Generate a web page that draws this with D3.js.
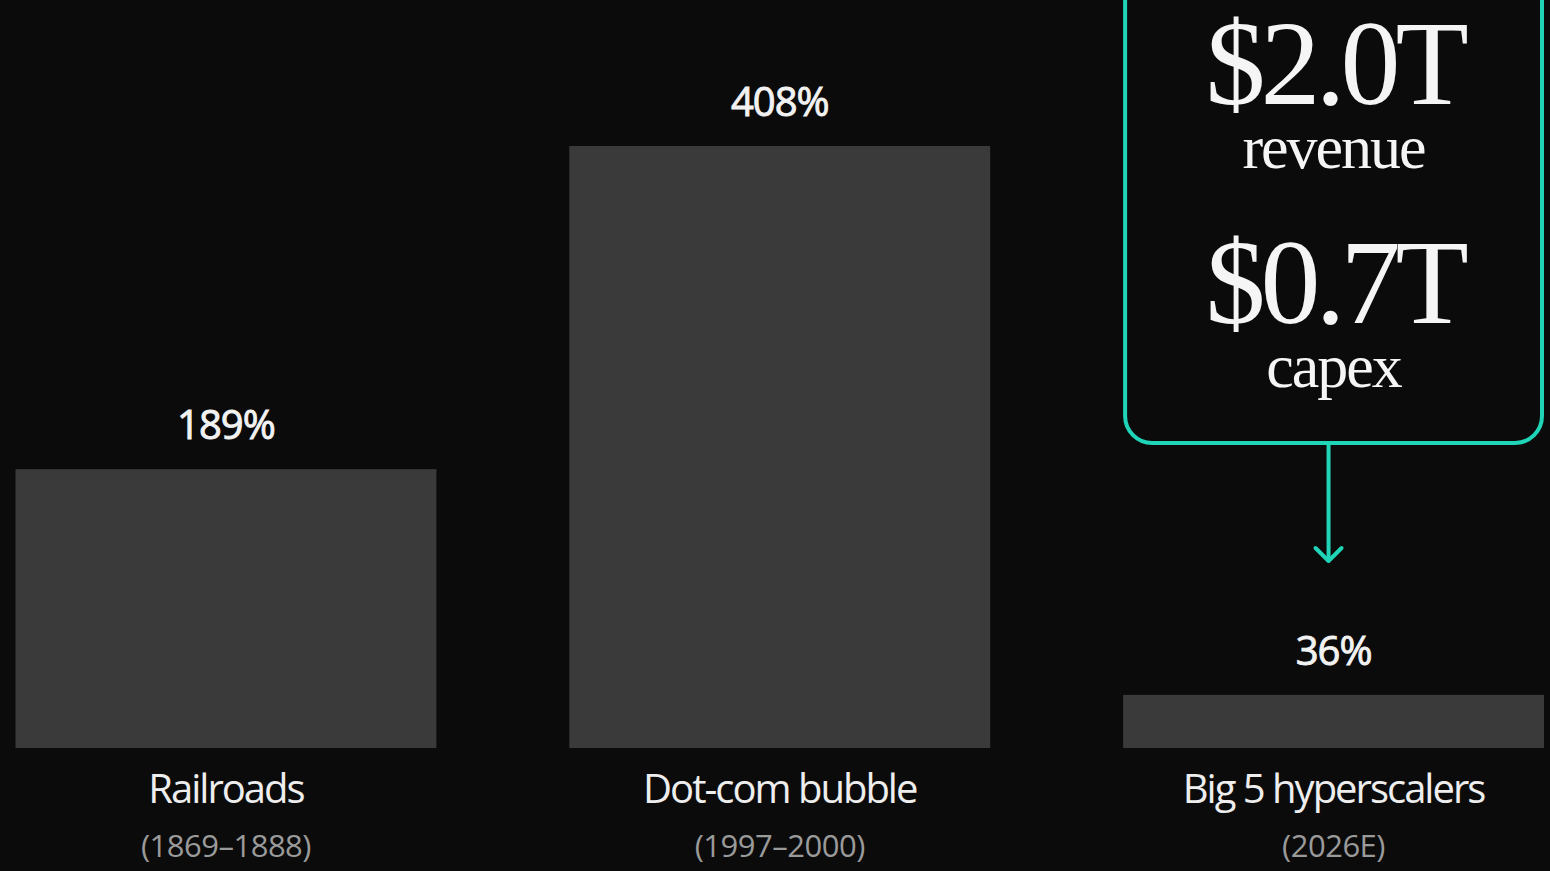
<!DOCTYPE html>
<html>
<head>
<meta charset="utf-8">
<script src="https://cdn.jsdelivr.net/npm/d3@7"></script>
<style>
  html, body { margin: 0; padding: 0; background: #0b0b0b; overflow: hidden; }
  svg { display: block; }
</style>
</head>
<body>
<svg id="chart" width="1550" height="871"></svg>
<script>
// Capex as a share of revenue, by investment boom
const categories = ["Railroads", "Dot-com bubble", "Big 5 hyperscalers"];
const periods = ["(1869–1888)", "(1997–2000)", "(2026E)"];
const ratios = [189, 408, 36];

// Callout figures for the hyperscalers
const calloutValues = ["$2.0T", "$0.7T"];
const calloutLabels = ["revenue", "capex"];

const W = 1550, H = 871;
const baseY = 748, topY = 146;

const svg = d3.select("#chart");

const x = d3.scaleBand()
  .domain(categories)
  .range([15.5, 1544])
  .paddingInner(0.24)
  .paddingOuter(0);

const y = d3.scaleLinear()
  .domain([0, d3.max(ratios)])
  .range([baseY, topY]);

const data = categories.map((c, i) => ({ cat: c, period: periods[i], value: ratios[i] }));

const sans = "'Open Sans', 'Noto Sans', sans-serif";
const serif = "'Liberation Serif', 'DejaVu Serif', serif";

// Bars
svg.append("g").selectAll("rect")
  .data(data)
  .join("rect")
  .attr("x", d => x(d.cat))
  .attr("y", d => y(d.value))
  .attr("width", x.bandwidth())
  .attr("height", d => baseY - y(d.value))
  .attr("fill", "#3a3a3a");

// Value labels above bars (medium weight via a thin outline)
svg.append("g").selectAll("text")
  .data(data)
  .join("text")
  .attr("x", d => x(d.cat) + x.bandwidth() / 2)
  .attr("y", d => y(d.value) - 30)
  .attr("text-anchor", "middle")
  .attr("fill", "#f2f2f2")
  .attr("stroke", "#f2f2f2")
  .attr("stroke-width", 0.9)
  .attr("font-family", sans)
  .attr("font-weight", 400)
  .attr("font-size", 40)
  .attr("letter-spacing", -1)
  .text(d => d.value + "%");

// Category names
svg.append("g").selectAll("text")
  .data(data)
  .join("text")
  .attr("x", d => x(d.cat) + x.bandwidth() / 2)
  .attr("y", 803)
  .attr("text-anchor", "middle")
  .attr("fill", "#eeeeee")
  .attr("font-family", sans)
  .attr("font-weight", 400)
  .attr("font-size", 40)
  .attr("letter-spacing", -2)
  .text(d => d.cat);

// Periods
svg.append("g").selectAll("text")
  .data(data)
  .join("text")
  .attr("x", d => x(d.cat) + x.bandwidth() / 2)
  .attr("y", 857)
  .attr("text-anchor", "middle")
  .attr("fill", "#9a9a9a")
  .attr("font-family", sans)
  .attr("font-size", 31)
  .attr("letter-spacing", -0.5)
  .text(d => d.period);

// Callout box over the hyperscalers bar
const teal = "#20d4b8";
const hc = categories[2];
const bx0 = x(hc), bw = x.bandwidth();
const cx = bx0 + bw / 2;
const boxBottom = 443;

svg.append("rect")
  .attr("x", bx0 + 2)
  .attr("y", -60)
  .attr("width", bw - 4)
  .attr("height", boxBottom + 60)
  .attr("rx", 27)
  .attr("fill", "none")
  .attr("stroke", teal)
  .attr("stroke-width", 4);

// Arrow from the box down to the bar
const arrowX = cx - 5;
const arrowEnd = 561;
svg.append("line")
  .attr("x1", arrowX).attr("x2", arrowX)
  .attr("y1", boxBottom).attr("y2", arrowEnd - 2)
  .attr("stroke", teal)
  .attr("stroke-width", 4);
svg.append("path")
  .attr("d", d3.line()([[arrowX - 13, arrowEnd - 13], [arrowX, arrowEnd], [arrowX + 13, arrowEnd - 13]]))
  .attr("fill", "none")
  .attr("stroke", teal)
  .attr("stroke-width", 4)
  .attr("stroke-linecap", "round")
  .attr("stroke-linejoin", "round");

// Callout text
const bigY = [104, 323];
const smallY = [168, 387];
const callout = svg.append("g").attr("fill", "#f5f5f5").attr("font-family", serif).attr("text-anchor", "middle");
callout.selectAll("text.big")
  .data(calloutValues)
  .join("text")
  .attr("class", "big")
  .attr("x", cx + 1)
  .attr("y", (d, i) => bigY[i])
  .attr("font-size", 120)
  .attr("letter-spacing", -5)
  .text(d => d);
callout.selectAll("text.small")
  .data(calloutLabels)
  .join("text")
  .attr("class", "small")
  .attr("x", cx)
  .attr("y", (d, i) => smallY[i])
  .attr("font-size", 62)
  .attr("letter-spacing", -2)
  .text(d => d);
</script>
</body>
</html>
